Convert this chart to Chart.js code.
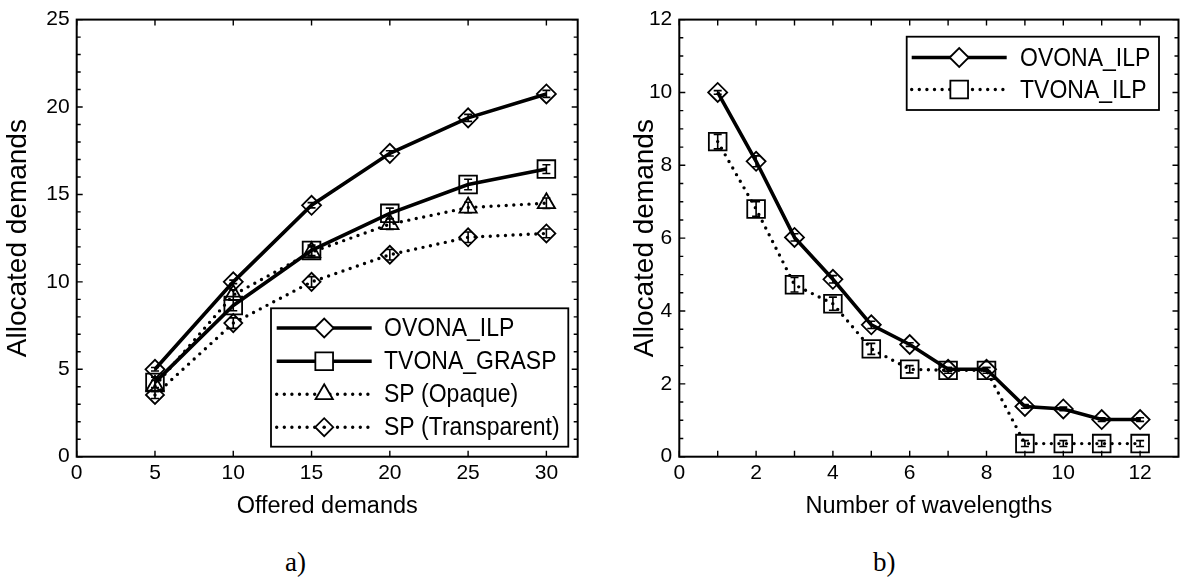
<!DOCTYPE html>
<html><head><meta charset="utf-8">
<script src="https://cdn.jsdelivr.net/npm/chart.js@4.4.1/dist/chart.umd.min.js"></script>
<style>
html,body{margin:0;padding:0;background:#fff;width:1180px;height:583px;overflow:hidden;position:relative}
#c1{position:absolute;left:0;top:0}
#c2{position:absolute;left:590px;top:0}
.sub{position:absolute;font-family:"Liberation Serif","DejaVu Serif",serif;font-size:27px;color:#000;top:544px;line-height:36px}
</style></head><body>
<canvas id="c1" width="590" height="524"></canvas>
<canvas id="c2" width="590" height="524"></canvas>
<div class="sub" style="left:285px">a)</div>
<div class="sub" style="left:873px">b)</div>
<script>
// ---- data: chart a) ----
const offeredDemands = [5, 10, 15, 20, 25, 30];
const ovonaIlpA      = [5.0, 10.0, 14.38, 17.35, 19.38, 20.75];
const ovonaIlpAErr   = [0.1, 0.1, 0.15, 0.15, 0.2, 0.2];
const tvonaGraspA    = [4.25, 8.65, 11.8, 13.92, 15.57, 16.45];
const tvonaGraspAErr = [0.3, 0.3, 0.3, 0.3, 0.3, 0.25];
const spOpaqueA      = [4.06, 9.25, 11.7, 13.3, 14.25, 14.5];
const spOpaqueAErr   = [0.3, 0.3, 0.3, 0.3, 0.3, 0.3];
const spTranspA      = [3.53, 7.64, 10.0, 11.55, 12.55, 12.77];
const spTranspAErr   = [0.2, 0.3, 0.3, 0.3, 0.3, 0.25];
const xTicksA = [0, 5, 10, 15, 20, 25, 30];
const yTicksA = [0, 5, 10, 15, 20, 25];

// ---- data: chart b) ----
const wavelengths  = [1, 2, 3, 4, 5, 6, 7, 8, 9, 10, 11, 12];
const ovonaIlpB    = [10.0, 8.11, 6.02, 4.87, 3.62, 3.08, 2.40, 2.40, 1.38, 1.31, 1.02, 1.02];
const ovonaIlpBErr = [0.05, 0.15, 0.1, 0.1, 0.1, 0.05, 0.05, 0.05, 0.05, 0.05, 0.05, 0.05];
const tvonaIlpB    = [8.65, 6.8, 4.72, 4.2, 2.96, 2.4, 2.37, 2.37, 0.36, 0.36, 0.36, 0.36];
const tvonaIlpBErr = [0.2, 0.2, 0.2, 0.18, 0.15, 0.1, 0.08, 0.08, 0.08, 0.08, 0.08, 0.08];
const xTicksB = [0, 2, 4, 6, 8, 10, 12];
const xTickMarksB = [0, 1, 2, 3, 4, 5, 6, 7, 8, 9, 10, 11, 12];
const yTicksB = [0, 2, 4, 6, 8, 10, 12];

const FONT = '"Liberation Sans", Arial, Helvetica, sans-serif';
Chart.defaults.color = '#000';
Chart.defaults.font.family = FONT;

function pts(xs, ys) { return xs.map((x, i) => ({x: x, y: ys[i]})); }

function markerPath(ctx, style, r, x, y) {
  ctx.beginPath();
  if (style === 'rectRot') {
    ctx.moveTo(x - r, y); ctx.lineTo(x, y - r); ctx.lineTo(x + r, y); ctx.lineTo(x, y + r); ctx.closePath();
  } else if (style === 'rect') {
    const s = Math.SQRT1_2 * r; ctx.rect(x - s, y - s, 2 * s, 2 * s);
  } else if (style === 'triangle') {
    for (let k = 0; k < 3; k++) {
      const a = k * 2 * Math.PI / 3;
      const px = x + Math.sin(a) * r, py = y - Math.cos(a) * r;
      k === 0 ? ctx.moveTo(px, py) : ctx.lineTo(px, py);
    }
    ctx.closePath();
  }
}

function ds(label, xs, ys, errs, style, radius, dotted) {
  return {
    label: label, data: pts(xs, ys), errors: errs,
    borderColor: '#000', borderWidth: dotted ? 3.4 : 3.6,
    borderDash: dotted ? [0, 7.6] : [], borderCapStyle: dotted ? 'round' : 'butt',
    pointStyle: style, pointRadius: radius, pointHoverRadius: radius,
    pointBorderColor: '#000', pointBackgroundColor: 'rgba(0,0,0,0)', pointBorderWidth: 1.8,
    tension: 0, fill: false
  };
}

const errorBars = {
  id: 'errorBars',
  afterDatasetsDraw(chart) {
    const ctx = chart.ctx, xs = chart.scales.x, ys = chart.scales.y;
    ctx.save(); ctx.strokeStyle = '#000'; ctx.lineWidth = 1.6;
    chart.data.datasets.forEach(d => {
      if (!d.errors) return;
      d.data.forEach((p, i) => {
        const e = d.errors[i]; if (!e) return;
        const x = xs.getPixelForValue(p.x), y1 = ys.getPixelForValue(p.y + e), y2 = ys.getPixelForValue(p.y - e);
        ctx.beginPath();
        ctx.moveTo(x, y1); ctx.lineTo(x, y2);
        ctx.moveTo(x - 4, y1); ctx.lineTo(x + 4, y1);
        ctx.moveTo(x - 4, y2); ctx.lineTo(x + 4, y2);
        ctx.stroke();
      });
    });
    ctx.restore();
  }
};

const frame = {
  id: 'frame',
  afterDraw(chart, args, o) {
    const ctx = chart.ctx, a = chart.chartArea, xs = chart.scales.x, ys = chart.scales.y;
    ctx.save(); ctx.strokeStyle = '#000';
    ctx.lineWidth = 1.4;
    ctx.beginPath();
    o.xMajor.forEach(v => { const x = xs.getPixelForValue(v); ctx.moveTo(x, a.bottom); ctx.lineTo(x, a.bottom - 6); ctx.moveTo(x, a.top); ctx.lineTo(x, a.top + 6); });
    o.yMajor.forEach(v => { const y = ys.getPixelForValue(v); ctx.moveTo(a.left, y); ctx.lineTo(a.left + 6, y); ctx.moveTo(a.right, y); ctx.lineTo(a.right - 6, y); });
    o.yMinor.forEach(v => { const y = ys.getPixelForValue(v); ctx.moveTo(a.left, y); ctx.lineTo(a.left + 4, y); ctx.moveTo(a.right, y); ctx.lineTo(a.right - 4, y); });
    ctx.stroke();
    ctx.lineWidth = 2;
    ctx.strokeRect(a.left, a.top, a.right - a.left, a.bottom - a.top);
    // legend box
    const L = o.legend;
    ctx.lineWidth = 1.8;
    ctx.fillStyle = '#fff';
    ctx.fillRect(L.x1, L.y1, L.x2 - L.x1, L.y2 - L.y1);
    ctx.strokeRect(L.x1, L.y1, L.x2 - L.x1, L.y2 - L.y1);
    chart.data.datasets.forEach((d, i) => {
      const y = L.rows[i];
      ctx.save();
      ctx.lineWidth = d.borderWidth; ctx.setLineDash(d.borderDash); ctx.lineCap = d.borderCapStyle;
      ctx.beginPath(); ctx.moveTo(L.lx1, y); ctx.lineTo(L.lx2, y); ctx.stroke();
      ctx.restore();
      const mx = (L.lx1 + L.lx2) / 2;
      markerPath(ctx, d.pointStyle, d.pointRadius, mx, y);
      ctx.fillStyle = '#fff'; ctx.fill();
      ctx.lineWidth = d.pointBorderWidth; ctx.stroke();
      if (d.legendDot) { ctx.fillStyle = '#000'; ctx.beginPath(); ctx.arc(mx, y, 1.8, 0, Math.PI * 2); ctx.fill(); }
      ctx.save();
      ctx.translate(L.tx, y + 1);
      ctx.scale(1, 1.15);
      ctx.fillStyle = '#000'; ctx.font = '23px ' + FONT; ctx.textBaseline = 'middle'; ctx.textAlign = 'left';
      ctx.fillText(d.label, 0, 0);
      ctx.restore();
    });
    ctx.restore();
  }
};

function axisOpts(min, max, ticks, afterFit, title, pad, titlePad, titleSize) {
  return {
    type: 'linear', min: min, max: max,
    afterBuildTicks: s => { s.ticks = ticks.map(v => ({value: v})); },
    afterFit: afterFit,
    grid: {display: false, drawTicks: false}, border: {display: false},
    ticks: {font: {family: FONT, size: 21}, padding: pad, maxRotation: 0, autoSkip: false},
    title: {display: true, text: title, font: {family: FONT, size: titleSize}, padding: titlePad}
  };
}

function fitX(s) { s.height = 67.3; s.paddingLeft = 0; s.paddingRight = 0; }

const yMinorA = []; for (let v = 1; v < 25; v++) if (v % 5) yMinorA.push(v);
const yMinorB = []; for (let v = 0.5; v < 12; v += 0.5) if (v % 2) yMinorB.push(v);

const sp2 = ds('SP (Transparent)', offeredDemands, spTranspA, spTranspAErr, 'rectRot', 9, true);
sp2.legendDot = true;

new Chart(document.getElementById('c1'), {
  type: 'line',
  data: {datasets: [
    ds('OVONA_ILP', offeredDemands, ovonaIlpA, ovonaIlpAErr, 'rectRot', 9.5, false),
    ds('TVONA_GRASP', offeredDemands, tvonaGraspA, tvonaGraspAErr, 'rect', 12.5, false),
    ds('SP (Opaque)', offeredDemands, spOpaqueA, spOpaqueAErr, 'triangle', 10, true),
    sp2
  ]},
  plugins: [errorBars, frame],
  options: {
    responsive: false, animation: false, events: [],
    layout: {autoPadding: false, padding: {left: 0, top: 15.3, right: 12.3, bottom: 0}},
    scales: {
      x: axisOpts(0, 32, xTicksA, fitX, 'Offered demands', 4, {top: 0, bottom: 3}, 23.5),
      y: axisOpts(0, 25, yTicksA, s => { s.width = 76.7; }, 'Allocated demands', 7, {top: 1, bottom: 0}, 28)
    },
    plugins: {
      legend: {display: false}, tooltip: {enabled: false},
      frame: {xMajor: xTicksA, yMajor: yTicksA, yMinor: yMinorA,
        legend: {x1: 271, y1: 308.3, x2: 568.3, y2: 446.7, rows: [328, 361.2, 394.2, 427.2], lx1: 276.7, lx2: 371.7, tx: 384}}
    }
  }
});

new Chart(document.getElementById('c2'), {
  type: 'line',
  data: {datasets: [
    ds('OVONA_ILP', wavelengths, ovonaIlpB, ovonaIlpBErr, 'rectRot', 9.5, false),
    ds('TVONA_ILP', wavelengths, tvonaIlpB, tvonaIlpBErr, 'rect', 12.5, true)
  ]},
  plugins: [errorBars, frame],
  options: {
    responsive: false, animation: false, events: [],
    layout: {autoPadding: false, padding: {left: 37, top: 15.3, right: 1.5, bottom: 0}},
    scales: {
      x: axisOpts(0, 13, xTicksB, fitX, 'Number of wavelengths', 4, {top: 0, bottom: 3}, 23.5),
      y: axisOpts(0, 12, yTicksB, s => { s.width = 52.3; }, 'Allocated demands', 7, {top: 1, bottom: 0}, 28)
    },
    plugins: {
      legend: {display: false}, tooltip: {enabled: false},
      frame: {xMajor: xTickMarksB, yMajor: yTicksB, yMinor: yMinorB,
        legend: {x1: 316.7, y1: 36.7, x2: 569, y2: 110, rows: [57.5, 89.5], lx1: 321.7, lx2: 416.7, tx: 430}}
    }
  }
});
</script>
</body></html>
